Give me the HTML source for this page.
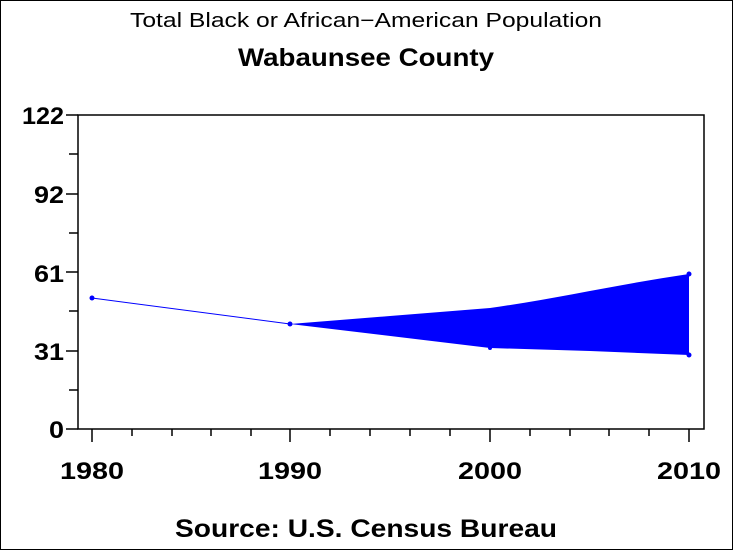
<!DOCTYPE html>
<html><head><meta charset="utf-8"><style>
html,body{margin:0;padding:0;background:#fff;}
svg{display:block;}
text{font-family:"Liberation Sans",sans-serif;fill:#000;}
</style></head><body>
<svg width="733" height="550" viewBox="0 0 733 550" xmlns="http://www.w3.org/2000/svg">
<rect x="0" y="0" width="733" height="550" fill="#fff"/>
<rect x="0.5" y="0.5" width="732" height="549" fill="none" stroke="#000" stroke-width="1"/>
<text x="130" y="27" font-size="20" textLength="472" lengthAdjust="spacingAndGlyphs">Total Black or African−American Population</text>
<text x="238" y="66" font-size="25" font-weight="bold" textLength="256" lengthAdjust="spacingAndGlyphs">Wabaunsee County</text>
<text x="175" y="537" font-size="25" font-weight="bold" textLength="382" lengthAdjust="spacingAndGlyphs">Source: U.S. Census Bureau</text>
<path d="M78 115 H704 V429 H78 Z" fill="none" stroke="#000" stroke-width="1.5"/>
<g stroke="#000" stroke-width="1.5">
<line x1="66" y1="115" x2="78" y2="115"/>
<line x1="66" y1="194" x2="78" y2="194"/>
<line x1="66" y1="272" x2="78" y2="272"/>
<line x1="66" y1="351" x2="78" y2="351"/>
<line x1="66" y1="429" x2="78" y2="429"/>
<line x1="69" y1="154" x2="78" y2="154"/>
<line x1="69" y1="233" x2="78" y2="233"/>
<line x1="69" y1="311" x2="78" y2="311"/>
<line x1="69" y1="390" x2="78" y2="390"/>
<line x1="92" y1="429" x2="92" y2="442"/>
<line x1="290" y1="429" x2="290" y2="442"/>
<line x1="490" y1="429" x2="490" y2="442"/>
<line x1="689" y1="429" x2="689" y2="442"/>
<line x1="132" y1="429" x2="132" y2="436"/>
<line x1="172" y1="429" x2="172" y2="436"/>
<line x1="211" y1="429" x2="211" y2="436"/>
<line x1="251" y1="429" x2="251" y2="436"/>
<line x1="330" y1="429" x2="330" y2="436"/>
<line x1="370" y1="429" x2="370" y2="436"/>
<line x1="410" y1="429" x2="410" y2="436"/>
<line x1="450" y1="429" x2="450" y2="436"/>
<line x1="530" y1="429" x2="530" y2="436"/>
<line x1="570" y1="429" x2="570" y2="436"/>
<line x1="609" y1="429" x2="609" y2="436"/>
<line x1="649" y1="429" x2="649" y2="436"/>
</g>
<g font-size="24" font-weight="bold">
<text x="22" y="124" textLength="42" lengthAdjust="spacingAndGlyphs">122</text>
<text x="34" y="203" textLength="30" lengthAdjust="spacingAndGlyphs">92</text>
<text x="34" y="282" textLength="30" lengthAdjust="spacingAndGlyphs">61</text>
<text x="34" y="360" textLength="30" lengthAdjust="spacingAndGlyphs">31</text>
<text x="49" y="438" textLength="15" lengthAdjust="spacingAndGlyphs">0</text>
</g>
<g font-size="24" font-weight="bold">
<text x="60" y="479" textLength="64" lengthAdjust="spacingAndGlyphs">1980</text>
<text x="258" y="479" textLength="64" lengthAdjust="spacingAndGlyphs">1990</text>
<text x="458" y="479" textLength="64" lengthAdjust="spacingAndGlyphs">2000</text>
<text x="657" y="479" textLength="64" lengthAdjust="spacingAndGlyphs">2010</text>
</g>
<line x1="92" y1="298" x2="290" y2="324" stroke="#0000ff" stroke-width="1"/>
<path d="M290 324 L390 316 L490 308 C560 298 620 284 689 274 L689 355 L590 351 L490 348 Z" fill="#0000ff"/>
<g fill="#0000ff">
<circle cx="92" cy="298" r="2.5"/>
<circle cx="290" cy="324" r="2.5"/>
<circle cx="490" cy="348" r="2"/>
<circle cx="689" cy="274" r="2.5"/>
<circle cx="689" cy="355" r="2.5"/>
</g>
</svg>
</body></html>
